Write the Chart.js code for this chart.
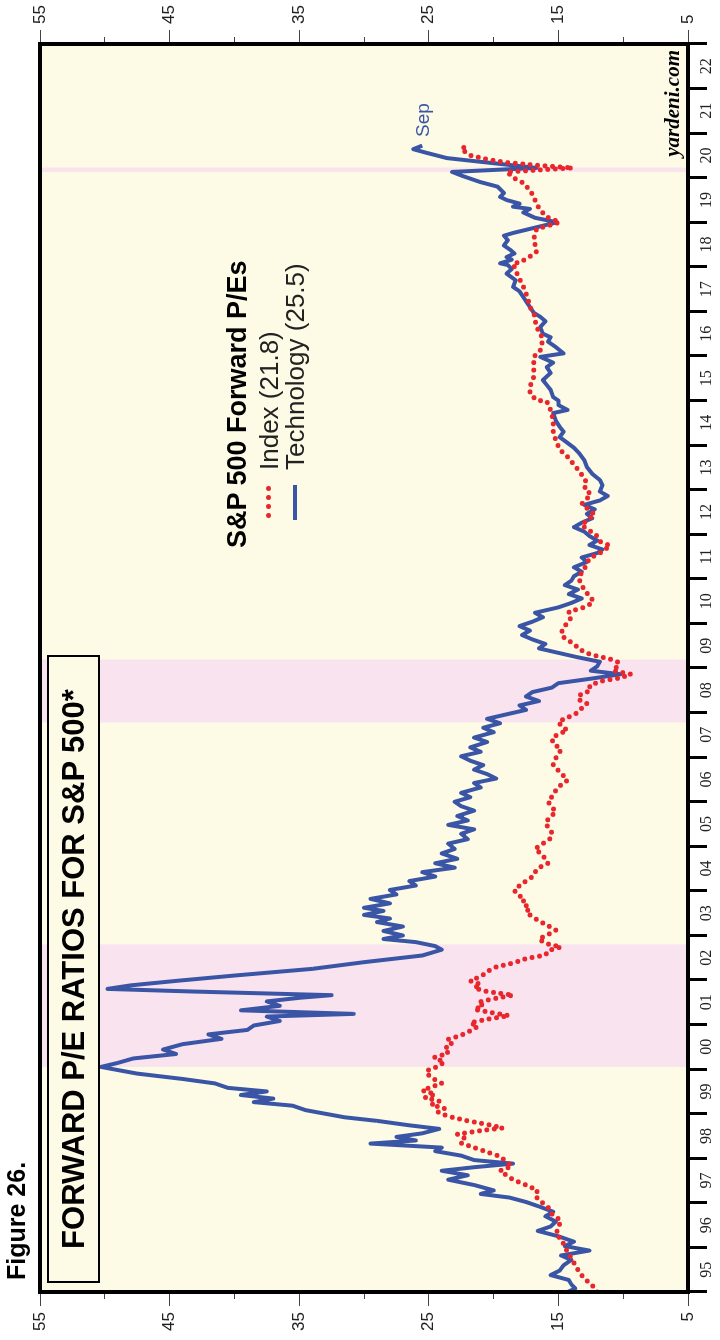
<!DOCTYPE html>
<html>
<head>
<meta charset="utf-8">
<script src="https://cdn.jsdelivr.net/npm/chart.js@4.4.1/dist/chart.umd.min.js"></script>
<style>
  html, body { margin: 0; padding: 0; background: #fff; overflow: hidden; }
  #wrap {
    position: absolute; left: 0; top: 0; width: 1340px; height: 720px;
    transform-origin: 0 0; transform: translateY(1340px) rotate(-90deg);
    font-family: "Liberation Sans", Arial, sans-serif;
  }
  #chart { position: absolute; left: 0; top: 0; width: 1340px; height: 720px; }
  .txt { position: absolute; white-space: nowrap; }
  .fig { left: 60px; top: 4px; font-size: 25px; font-weight: bold; line-height: 25px; }
  .titlebox {
    position: absolute; left: 57px; top: 47px; width: 628px; height: 53px; box-sizing: border-box;
    border: 2px solid #000; background: #fdfbe6; display: flex; align-items: center; justify-content: center;
    font-size: 31px; font-weight: bold; white-space: nowrap;
  }
  .lg-title { left: 792px; top: 222px; font-size: 27px; font-weight: bold; line-height: 30px; }
  .lg-item { left: 870px; font-size: 26px; line-height: 30px; color: #222; }
  .dot { position: absolute; width: 5px; height: 5px; border-radius: 50%; background: #e8262b; }
  .sep { left: 1203px; top: 411px; font-size: 19px; line-height: 24px; color: #3a55a5; }
  .yard { right: 50px; top: 660px; font-family: "Liberation Serif", serif; font-style: italic; font-weight: bold; font-size: 21px; line-height: 24px; }
</style>
</head>
<body>
<div id="wrap">
  <canvas id="chart" width="1340" height="720"></canvas>
  <div class="txt fig">Figure 26.</div>
  <div class="titlebox">FORWARD P/E RATIOS FOR S&amp;P 500*</div>
  <div class="txt lg-title">S&amp;P 500 Forward P/Es</div>
  <div class="dot" style="left:822px;top:266px"></div>
  <div class="dot" style="left:831px;top:266px"></div>
  <div class="dot" style="left:840px;top:266px"></div>
  <div class="dot" style="left:849px;top:266px"></div>
  <div class="txt lg-item" style="top:254px">Index (21.8)</div>
  <div style="position:absolute;left:820px;top:293px;width:35px;height:4px;background:#3a55a5"></div>
  <div class="txt lg-item" style="top:280px">Technology (25.5)</div>
  <div class="txt sep">Sep</div>
  <div class="txt yard">yardeni.com</div>
</div>
<script>
// Year axis labels (tick marks sit on Jan 1 of each year, labels mid-year)
const yearLabels = ["95", "96", "97", "98", "99", "00", "01", "02", "03", "04", "05", "06", "07",
  "08", "09", "10", "11", "12", "13", "14", "15", "16", "17", "18", "19", "20", "21", "22"];
const peLabels = [55, 45, 35, 25, 15, 5];

// Shaded bear-market periods (decimal years)
const bearStart = [2000.05, 2007.78, 2020.13];
const bearEnd = [2002.8, 2009.19, 2020.23];

// Technology forward P/E
const techDates = [
  1995.00, 1995.08, 1995.17, 1995.27, 1995.38, 1995.48, 1995.60, 1995.72, 1995.82, 1995.93,
  1996.03, 1996.13, 1996.25, 1996.37, 1996.47, 1996.58, 1996.70, 1996.80, 1996.92,
  1997.02, 1997.12, 1997.20, 1997.28, 1997.40, 1997.52, 1997.62, 1997.72, 1997.80, 1997.88, 1997.96,
  1998.06, 1998.16, 1998.24, 1998.33, 1998.40, 1998.48, 1998.56, 1998.66, 1998.74, 1998.84, 1998.92,
  1999.00, 1999.08, 1999.18, 1999.26, 1999.34, 1999.42, 1999.50, 1999.58, 1999.68, 1999.78, 1999.90,
  2000.05, 2000.14, 2000.24, 2000.34, 2000.44, 2000.56, 2000.68, 2000.78, 2000.88, 2000.98,
  2001.08, 2001.18, 2001.24, 2001.32, 2001.42, 2001.52, 2001.60, 2001.66, 2001.74, 2001.80, 2001.88, 2001.98,
  2002.10, 2002.25, 2002.40, 2002.55, 2002.68, 2002.76, 2002.85, 2002.92,
  2003.00, 2003.10, 2003.20, 2003.30, 2003.38, 2003.46, 2003.55, 2003.62, 2003.72, 2003.82, 2003.92,
  2004.02, 2004.12, 2004.22, 2004.32, 2004.42, 2004.52, 2004.62, 2004.72, 2004.84, 2004.94,
  2005.06, 2005.16, 2005.28, 2005.38, 2005.48, 2005.58, 2005.68, 2005.80, 2005.90,
  2006.00, 2006.10, 2006.20, 2006.32, 2006.42, 2006.52, 2006.62, 2006.72, 2006.82, 2006.92,
  2007.02, 2007.12, 2007.22, 2007.34, 2007.44, 2007.56, 2007.66, 2007.76, 2007.86, 2007.96,
  2008.06, 2008.16, 2008.26, 2008.36, 2008.46, 2008.56, 2008.66, 2008.76, 2008.86, 2008.94,
  2009.04, 2009.14, 2009.24, 2009.34, 2009.44, 2009.54, 2009.64, 2009.74, 2009.84, 2009.94,
  2010.04, 2010.14, 2010.24, 2010.36, 2010.46, 2010.56, 2010.66, 2010.76, 2010.86, 2010.96,
  2011.06, 2011.16, 2011.26, 2011.38, 2011.48, 2011.58, 2011.66, 2011.76, 2011.86, 2011.96,
  2012.06, 2012.16, 2012.26, 2012.36, 2012.46, 2012.56, 2012.66, 2012.76, 2012.86, 2012.96,
  2013.10, 2013.22, 2013.36, 2013.51, 2013.66, 2013.82, 2013.94,
  2014.05, 2014.18, 2014.30, 2014.41, 2014.55, 2014.72, 2014.79, 2014.90,
  2015.00, 2015.08, 2015.24, 2015.35, 2015.46, 2015.62, 2015.75, 2015.85, 2015.98,
  2016.06, 2016.20, 2016.32, 2016.42, 2016.50, 2016.65, 2016.78, 2016.88, 2016.97,
  2017.10, 2017.19, 2017.32, 2017.45, 2017.55, 2017.70, 2017.85, 2017.95,
  2018.04, 2018.08, 2018.16, 2018.22, 2018.30, 2018.38, 2018.48, 2018.60, 2018.70, 2018.76, 2018.88,
  2019.00, 2019.10, 2019.22, 2019.30, 2019.35, 2019.42, 2019.50, 2019.57, 2019.66, 2019.80, 2019.90,
  2020.05, 2020.13, 2020.22, 2020.44, 2020.56, 2020.64, 2020.72
];
const techValues = [
  14.3, 13.7, 14.0, 14.2, 15.6, 14.9, 14.6, 14.0, 14.8, 12.6,
  14.5, 13.8, 15.0, 16.6, 15.6, 15.2, 16.0, 15.4, 16.5,
  17.5, 18.8, 21.0, 20.0, 21.5, 23.5, 22.0, 24.0, 21.5, 18.5, 21.5,
  22.5, 24.5, 24.0, 29.5, 26.0, 27.5, 25.5, 24.2, 26.5, 29.0, 31.5,
  33.0, 34.5, 35.5, 38.5, 37.0, 39.5, 37.5, 40.5, 41.5, 44.0, 47.5,
  50.3, 49.0, 47.8, 44.5, 45.5, 44.0, 41.0, 42.0, 39.0, 38.5,
  36.5, 37.5, 30.8, 39.5, 36.5, 37.5, 35.0, 32.5, 43.0, 49.8, 48.0, 44.5,
  40.0, 34.0, 30.0, 25.5, 24.0, 24.5, 26.0, 28.5,
  27.0, 28.5, 27.0, 29.0, 28.0, 30.0, 28.5, 30.0, 28.0, 29.5, 27.5,
  28.0, 26.0, 26.5, 24.5, 25.5, 23.0, 24.5, 22.8, 24.0, 23.0,
  23.5, 22.0, 22.5, 21.5, 23.5, 22.0, 22.8, 21.5, 22.5,
  23.0, 21.8, 22.5, 21.0, 21.5, 19.8, 20.5, 21.5, 20.8, 21.8,
  22.5, 21.0, 21.8, 20.5, 21.5, 20.0, 20.8, 19.5, 20.5, 19.0,
  17.5, 18.0, 16.5, 17.5, 17.0, 15.5, 15.0, 12.5, 10.2, 12.5,
  12.0, 11.8, 13.5, 15.0, 16.5, 16.0, 17.0, 17.8, 17.2, 18.0,
  17.0, 16.2, 16.8, 15.0, 14.0, 13.2, 14.2, 13.5, 14.5, 14.0,
  13.8, 13.2, 13.8, 12.8, 13.2, 12.0, 11.6, 12.6, 12.0, 12.6,
  13.0, 13.8, 13.2, 12.4, 12.8, 12.2, 13.0, 11.8, 11.2, 11.8,
  11.6, 11.8, 12.4, 12.8, 13.0, 13.4, 13.8,
  14.3, 14.9, 14.6, 14.9, 15.2, 15.4, 14.3, 15.0,
  15.0, 15.4, 15.6, 15.9, 16.2, 15.6, 15.9, 15.4, 16.4,
  14.6, 15.2, 15.8, 15.6, 16.2, 16.4, 16.0, 16.4, 16.9,
  17.2, 17.4, 17.7, 18.0, 18.5, 18.3, 19.0, 18.6,
  18.9, 19.5, 18.6, 19.0, 18.4, 18.7, 19.2, 18.9, 19.2, 18.5, 16.8,
  15.1, 16.8, 17.7, 17.2, 18.5, 18.0, 19.0, 19.5, 19.2, 19.7, 21.0,
  22.5, 23.2, 16.7, 23.6, 25.2, 26.2, 25.5
];

// S&P 500 index forward P/E
const indexDates = [
  1995.00, 1995.12, 1995.25, 1995.40, 1995.55, 1995.70, 1995.85,
  1996.00, 1996.15, 1996.30, 1996.45, 1996.60, 1996.75, 1996.90,
  1997.02, 1997.15, 1997.28, 1997.40, 1997.52, 1997.62, 1997.72, 1997.82, 1997.92,
  1998.04, 1998.14, 1998.24, 1998.34, 1998.44, 1998.54, 1998.62, 1998.68, 1998.76, 1998.84, 1998.94,
  1999.04, 1999.12, 1999.20, 1999.28, 1999.36, 1999.44, 1999.52, 1999.60, 1999.68, 1999.76, 1999.86, 1999.96,
  2000.06, 2000.16, 2000.26, 2000.36, 2000.46, 2000.56, 2000.66, 2000.76, 2000.86, 2000.96,
  2001.04, 2001.12, 2001.20, 2001.26, 2001.34, 2001.42, 2001.50, 2001.58, 2001.66, 2001.74, 2001.82, 2001.90, 2001.98,
  2002.08, 2002.18, 2002.28, 2002.38, 2002.48, 2002.56, 2002.66, 2002.74, 2002.82, 2002.92,
  2003.02, 2003.12, 2003.22, 2003.32, 2003.42, 2003.52, 2003.62, 2003.72, 2003.82, 2003.92,
  2004.02, 2004.12, 2004.22, 2004.32, 2004.42, 2004.52, 2004.62, 2004.72, 2004.82, 2004.94,
  2005.06, 2005.18, 2005.30, 2005.42, 2005.54, 2005.66, 2005.78, 2005.90,
  2006.02, 2006.14, 2006.26, 2006.38, 2006.48, 2006.58, 2006.70, 2006.82, 2006.94,
  2007.06, 2007.18, 2007.30, 2007.42, 2007.52, 2007.60, 2007.70, 2007.80, 2007.90,
  2008.00, 2008.10, 2008.20, 2008.30, 2008.40, 2008.50, 2008.60, 2008.70, 2008.78, 2008.86, 2008.94,
  2009.02, 2009.12, 2009.20, 2009.30, 2009.42, 2009.54, 2009.66, 2009.78, 2009.90,
  2010.02, 2010.14, 2010.26, 2010.38, 2010.50, 2010.62, 2010.74, 2010.86, 2010.98,
  2011.10, 2011.22, 2011.34, 2011.46, 2011.58, 2011.66, 2011.74, 2011.84, 2011.96,
  2012.08, 2012.20, 2012.32, 2012.44, 2012.56, 2012.68, 2012.80, 2012.90,
  2013.02, 2013.15, 2013.38, 2013.60, 2013.74, 2013.90,
  2014.05, 2014.27, 2014.56, 2014.79, 2014.98,
  2015.01, 2015.16, 2015.31, 2015.53, 2015.75, 2015.98,
  2016.13, 2016.36, 2016.52, 2016.65, 2016.97,
  2017.10, 2017.32, 2017.55, 2017.85,
  2018.08, 2018.10, 2018.19, 2018.34, 2018.63, 2018.85,
  2019.00, 2019.12, 2019.27, 2019.42, 2019.57, 2019.72, 2019.88, 2019.95,
  2020.13, 2020.22, 2020.28, 2020.34, 2020.40, 2020.50, 2020.60, 2020.66, 2020.72
];
const indexValues = [
  12.0, 12.3, 12.8, 13.3, 13.6, 13.9, 14.2,
  14.5, 14.7, 15.2, 15.0, 14.8, 15.5, 15.8,
  16.3, 16.8, 16.6, 17.5, 18.5, 19.0, 19.5, 18.6, 19.0,
  19.5, 20.5, 21.5, 22.5, 22.2, 22.8, 21.0, 19.3, 20.5, 22.0, 23.5,
  24.3, 23.8, 24.8, 24.2, 25.3, 24.5, 25.5, 24.8, 24.0, 24.5, 25.0, 25.2,
  24.3, 23.8, 24.6, 23.5, 23.8, 23.2, 23.6, 22.5, 21.8, 21.2,
  21.8, 20.5, 18.8, 20.0, 21.5, 20.8, 21.2, 20.0, 18.5, 20.5, 21.5, 21.0, 21.8,
  21.0, 20.5, 20.0, 18.5, 17.5, 16.0, 15.8, 14.8, 16.0, 16.5,
  15.8, 15.2, 15.8, 16.5, 17.0, 17.5, 17.2, 17.8, 17.6, 18.2,
  18.4, 18.0, 17.5, 17.0, 16.8, 16.5, 15.8, 16.0, 16.3, 16.8,
  16.2, 15.6, 15.5, 15.8, 16.0, 15.6, 15.2, 15.6,
  15.8, 15.4, 15.2, 14.8, 14.3, 14.6, 15.0, 15.4, 15.3,
  15.0, 14.8, 15.4, 15.5, 15.0, 14.3, 14.8, 15.0, 14.2,
  13.5, 13.2, 12.8, 13.5, 13.3, 12.5, 12.6, 11.8, 10.2, 9.4, 10.8,
  10.5, 10.3, 11.0, 12.5, 13.4, 13.8, 14.5, 14.8, 14.6,
  14.3, 14.0, 14.2, 12.8, 12.3, 12.6, 13.0, 13.2, 13.4,
  13.3, 13.0, 12.8, 12.6, 11.8, 11.4, 11.0, 11.8, 12.0,
  12.6, 13.2, 12.8, 12.2, 12.7, 13.2, 12.8, 12.5,
  13.0, 12.8, 13.3, 13.9, 14.3, 14.9,
  15.1, 15.4, 15.4, 15.6, 15.9,
  16.7, 17.2, 17.2, 16.9, 16.9, 16.9,
  16.4, 16.2, 16.4, 16.7, 16.9,
  17.2, 17.4, 17.7, 18.2,
  18.5, 18.0, 17.4, 16.7, 16.9, 16.7,
  14.9, 15.9, 16.4, 16.7, 16.9, 17.2, 17.7, 18.2,
  19.0, 13.9, 16.7, 19.0, 20.3, 21.8, 22.3, 22.5, 21.8
];

const BLUE = "#3a55a5";
const RED = "#e8262b";
const CREAM = "#fdfbe6";
const PINK = "#f9e3ef";

const toPoints = (dates, values) => dates.map((d, i) => ({ x: d, y: values[i] }));

// Plot background, bear-market bands and heavy frame
const backdrop = {
  id: "backdrop",
  beforeDraw(chart) {
    const { ctx, chartArea: a, scales } = chart;
    ctx.save();
    ctx.fillStyle = CREAM;
    ctx.fillRect(a.left, a.top, a.width, a.height);
    ctx.fillStyle = PINK;
    bearStart.forEach((s, i) => {
      const x0 = scales.x.getPixelForValue(s);
      const x1 = scales.x.getPixelForValue(bearEnd[i]);
      ctx.fillRect(x0, a.top, x1 - x0, a.height);
    });
    ctx.restore();
  },
  afterDraw(chart) {
    const { ctx, chartArea: a } = chart;
    ctx.save();
    ctx.strokeStyle = "#000";
    ctx.lineWidth = 4;
    ctx.strokeRect(a.left, a.top, a.width, a.height);
    ctx.restore();
  },
};

const isMinor = (c) => c.tick && c.tick.value % 10 === 0;

const peAxis = (position) => ({
  type: "linear",
  position,
  min: 5,
  max: 55,
  afterFit(scale) {
    scale.width = position === "left" ? 48 : 44;
  },
  afterBuildTicks(scale) {
    const ticks = [];
    for (let v = 5; v <= 55; v += 5) ticks.push({ value: v });
    scale.ticks = ticks;
  },
  border: { display: false },
  grid: {
    drawOnChartArea: false,
    drawTicks: true,
    tickLength: 14,
    tickWidth: 1,
    tickColor: "#444",
    tickBorderDash: (c) => (isMinor(c) ? [7, 100] : []),
    tickBorderDashOffset: (c) => (isMinor(c) && position === "left" ? 100 : 0),
  },
  ticks: {
    padding: 6,
    color: "#222",
    font: { family: "Liberation Sans", size: 17 },
    callback: (v) => (peLabels.includes(v) ? String(v) : ""),
  },
});

new Chart(document.getElementById("chart"), {
  type: "line",
  data: {
    datasets: [
      {
        label: "Index",
        data: toPoints(indexDates, indexValues),
        borderColor: RED,
        borderWidth: 5,
        borderDash: [0, 7.5],
        borderCapStyle: "round",
        pointRadius: 0,
        tension: 0,
        order: 0,
      },
      {
        label: "Technology",
        data: toPoints(techDates, techValues),
        borderColor: BLUE,
        borderWidth: 4,
        borderJoinStyle: "round",
        pointRadius: 0,
        tension: 0,
        order: 1,
      },
    ],
  },
  options: {
    responsive: false,
    animation: false,
    devicePixelRatio: 1,
    layout: { padding: { top: 40, left: 0, right: 0, bottom: 0 } },
    plugins: { legend: { display: false }, tooltip: { enabled: false } },
    scales: {
      x: {
        type: "linear",
        position: "bottom",
        min: 1995,
        max: 2023,
        afterFit(scale) {
          scale.height = 32;
        },
        afterBuildTicks(scale) {
          const ticks = [];
          for (let i = 0; i <= yearLabels.length; i++) ticks.push({ value: 1995 + i });
          scale.ticks = ticks;
        },
        border: { display: false },
        grid: { drawOnChartArea: false, drawTicks: true, tickLength: 19, tickWidth: 3, tickColor: "#000" },
        ticks: {
          autoSkip: false,
          maxRotation: 0,
          minRotation: 0,
          padding: -10,
          labelOffset: 22.3,
          color: "#222",
          font: { family: "Liberation Serif", size: 16 },
          callback: (v, i) => yearLabels[i] || "",
        },
      },
      y: peAxis("left"),
      y2: peAxis("right"),
    },
  },
  plugins: [backdrop],
});
</script>
</body>
</html>
